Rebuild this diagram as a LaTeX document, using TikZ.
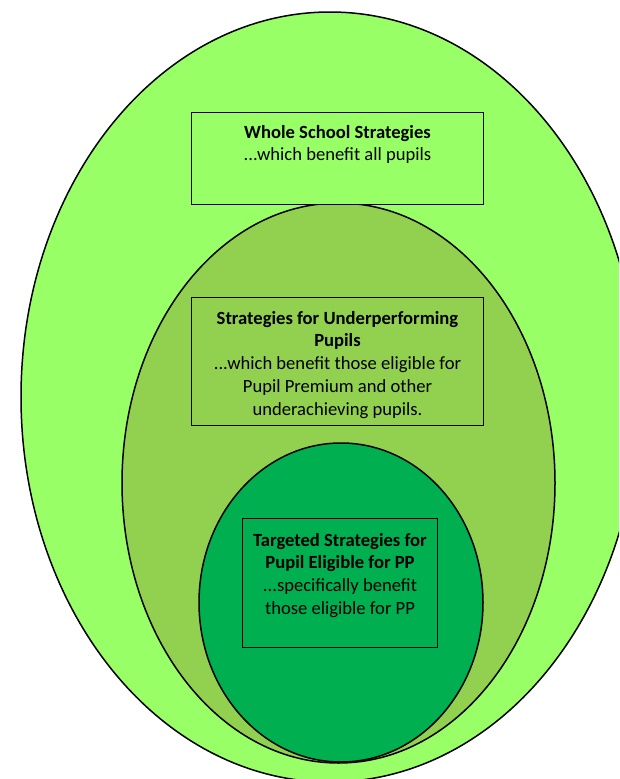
\documentclass[tikz,border=0pt]{standalone}
\usepackage{fontspec}
\setmainfont{Carlito}
\usetikzlibrary{positioning}

\definecolor{outergreen}{RGB}{153,255,102}
\definecolor{midgreen}{RGB}{146,208,80}
\definecolor{innergreen}{RGB}{0,176,80}

\begin{document}
\begin{tikzpicture}[x=1pt,y=-1pt,
  ring/.style={draw=black,line width=1.5pt},
  stratbox/.style={draw=black,line width=1pt,rectangle,inner sep=0pt,anchor=north west},
  strattext/.style={font=\fontsize{18.6}{22.7}\selectfont,text=black,align=center,inner sep=0pt,anchor=north}]
\useasboundingbox (0,0) rectangle (619,779);
\clip (0,0) rectangle (619,779);
\fill[white] (0,0) rectangle (619,779);

% nested groups, all pupils outside
\draw[ring,fill=outergreen] (330,397) ellipse (309 and 385);
\draw[ring,fill=midgreen] (338.5,483) ellipse (216.5 and 280);
\draw[ring,fill=innergreen] (341,602.5) ellipse (142 and 159.5);

\node[stratbox,fill=outergreen,minimum width=292pt,minimum height=92pt] (wholebox) at (191,112) {};
\node[strattext,below=13pt of wholebox.north] (wholetext) {\textbf{Whole School Strategies}\\.{}.{}.which benefit all pupils};

\node[stratbox,fill=midgreen,minimum width=292pt,minimum height=128pt] (underbox) at (191,297) {};
\node[strattext,below=14pt of underbox.north] (undertext) {\textbf{Strategies for Underperforming}\\\textbf{Pupils}\\.{}.{}.which benefit those eligible for\\Pupil Premium and other\\underachieving pupils.};

\node[stratbox,fill=innergreen,minimum width=195pt,minimum height=129pt] (targetbox) at (242,518) {};
\node[strattext,below=15pt of targetbox.north] (targettext) {\textbf{Targeted Strategies for}\\\textbf{Pupil Eligible for PP}\\.{}.{}.specifically benefit\\those eligible for PP};

\end{tikzpicture}
\end{document}
